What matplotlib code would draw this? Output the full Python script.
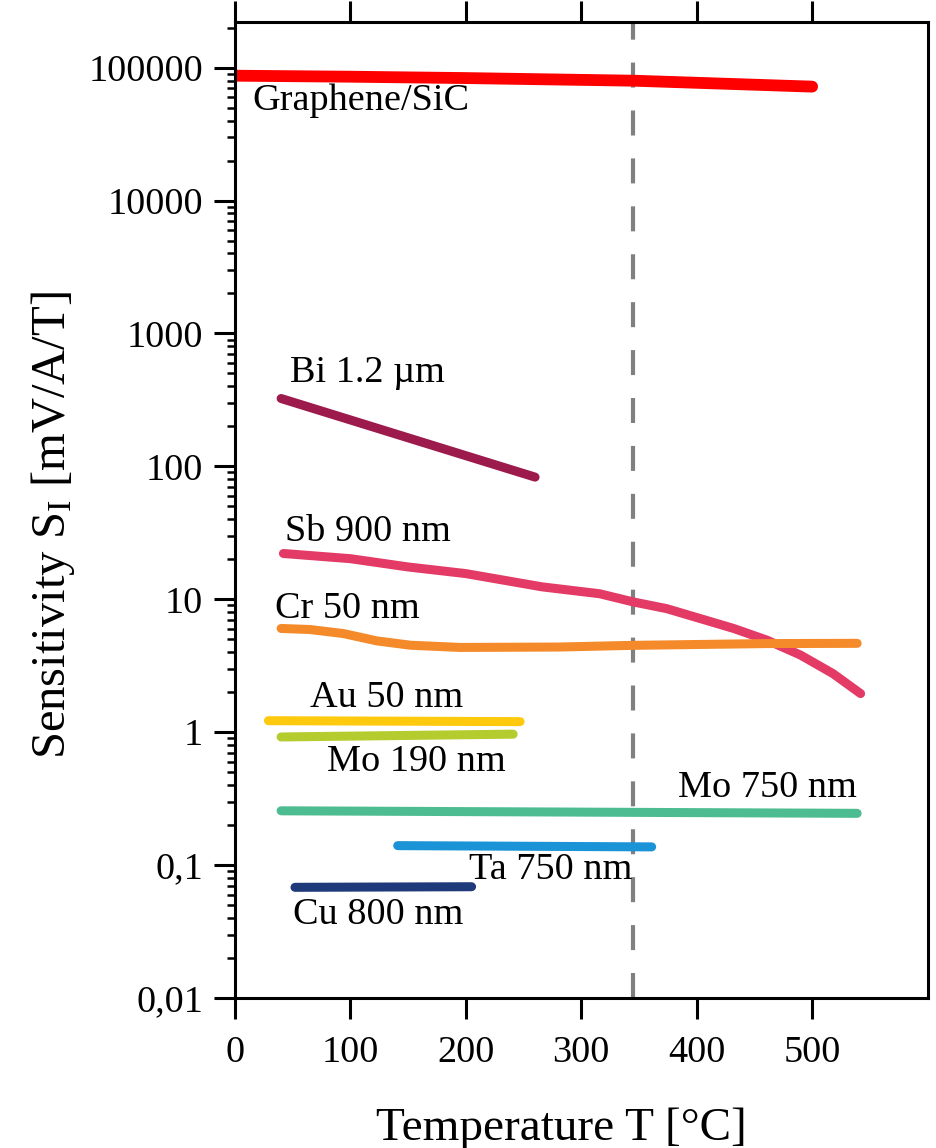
import matplotlib
matplotlib.use("Agg")
import matplotlib.pyplot as plt
from matplotlib.ticker import FixedLocator, FixedFormatter, LogLocator, NullFormatter
import numpy as np

plt.rcParams['font.family'] = ['Liberation Serif', 'DejaVu Serif']
plt.rcParams['mathtext.fontset'] = 'custom'
plt.rcParams['mathtext.rm'] = 'Liberation Serif'
plt.rcParams['mathtext.it'] = 'Liberation Serif:italic'

# data (temperature in degC, sensitivity in mV/A/T)
graphene_t = [0, 100, 200, 345, 500]
graphene_s = [87000, 85500, 83500, 79800, 72000]

bi_t = [40, 260]
bi_s = [324, 83]

sb_t = [42, 100, 150, 200, 266, 316, 345, 374, 403, 432, 461, 490, 518, 542]
sb_s = [22.1, 20.2, 17.5, 15.6, 12.4, 11.0, 9.55, 8.5, 7.16, 6.03, 4.92, 3.8, 2.76, 1.95]

cr_t = [40, 65, 94, 123, 152, 195, 280, 345, 460, 539]
cr_s = [6.03, 5.92, 5.52, 4.86, 4.51, 4.34, 4.37, 4.5, 4.64, 4.66]

au_t = [29, 247]
au_s = [1.22, 1.20]

mo190_t = [40, 241]
mo190_s = [0.92, 0.966]

mo750_t = [40, 539]
mo750_s = [0.256, 0.245]

ta_t = [141, 361]
ta_s = [0.140, 0.137]

cu_t = [52, 205]
cu_s = [0.068, 0.0687]

curves = [
    (graphene_t, graphene_s, '#ff0000', 8.5),
    (bi_t, bi_s, '#9c1a4c', 6.5),
    (sb_t, sb_s, '#e33b66', 6.5),
    (cr_t, cr_s, '#f58a2a', 6.5),
    (au_t, au_s, '#ffc90e', 6.5),
    (mo190_t, mo190_s, '#b5cc2e', 6.5),
    (mo750_t, mo750_s, '#4dbd91', 6.5),
    (ta_t, ta_s, '#1a94d6', 6.5),
    (cu_t, cu_s, '#1f3a7a', 6.5),
]

labels = [
    ("Graphene/SiC", 15, 56500, 'left'),
    ("Bi 1.2 µm", 48, 509, 'left'),
    ("Sb 900 nm", 43, 32, 'left'),
    ("Cr 50 nm", 35, 8.55, 'left'),
    ("Au 50 nm", 65, 1.83, 'left'),
    ("Mo 190 nm", 80, 0.594, 'left'),
    ("Mo 750 nm", 539, 0.385, 'right'),
    ("Ta 750 nm", 203, 0.0916, 'left'),
    ("Cu 800 nm", 50, 0.042, 'left'),
]

yticks = [0.01, 0.1, 1, 10, 100, 1000, 10000, 100000]
yticklabels = ["0,01", "0,1", "1", "10", "100", "1000", "10000", "100000"]
xticks = [0, 100, 200, 300, 400, 500]
t_limit = 345

fig = plt.figure(figsize=(9.36, 11.48), dpi=100)
ax = fig.add_axes([0.251, 0.1307, 0.74, 0.85])

ax.axvline(t_limit, color='#808080', lw=3, dashes=(6, 5.5), zorder=1)

for t, s, c, lw in curves:
    ax.plot(t, s, color=c, lw=lw, solid_capstyle='round', solid_joinstyle='round', zorder=2)

for txt, x, y, ha in labels:
    ax.text(x, y, txt, ha=ha, va='center', fontsize=27.5)

ax.set_yscale('log')
ax.set_xlim(0, 600)
ax.set_ylim(0.01, 2.2e5)

ax.yaxis.set_major_locator(FixedLocator(yticks))
ax.yaxis.set_major_formatter(FixedFormatter(yticklabels))
ax.yaxis.set_minor_locator(LogLocator(base=10, subs=np.arange(2, 10), numticks=20))
ax.yaxis.set_minor_formatter(NullFormatter())
ax.set_xticks(xticks)

ax.tick_params(axis='both', which='major', direction='out', length=15, width=2.2,
               labelsize=27.5, pad=8)
ax.tick_params(axis='x', which='major', pad=12)
ax.tick_params(axis='y', which='minor', direction='out', length=6, width=1.8)
ax.tick_params(axis='x', top=True, which='major')
ax.tick_params(axis='y', right=False, which='both')

for sp in ax.spines.values():
    sp.set_linewidth(2.2)

ax.set_xlabel("Temperature T [°C]", fontsize=34)
ax.set_ylabel("Sensitivity S$_\\mathrm{I}$ [mV/A/T]", fontsize=35)
ax.xaxis.set_label_coords(0.472, -0.112)
ax.yaxis.set_label_coords(-0.228, 0.485)

fig.savefig("out.png", dpi=100)
